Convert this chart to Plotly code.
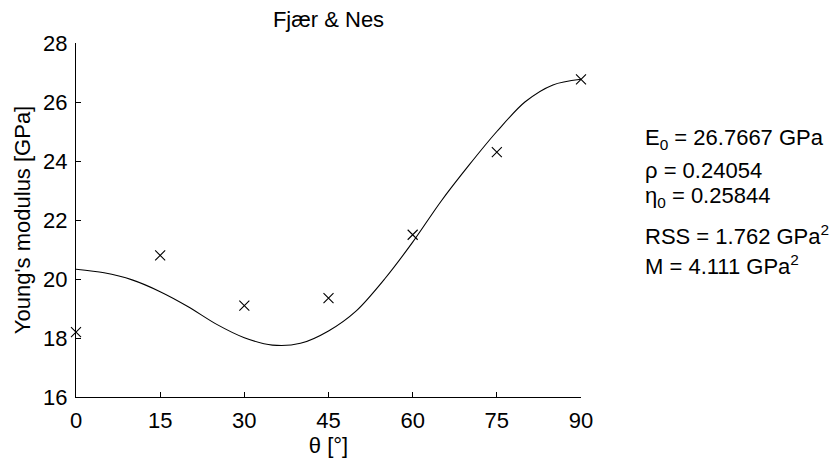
import plotly.graph_objects as go

# measured data
theta_pts = [0, 15, 30, 45, 60, 75, 90]
E_pts = [18.2, 20.8, 19.1, 19.35, 21.5, 24.3, 26.77]

# fitted curve
theta_fit = [0, 5, 10, 15, 20, 25, 30, 35, 40, 45, 50, 55, 60, 65, 70, 75, 80, 85, 90]
E_fit = [20.33, 20.21, 19.97, 19.57, 19.06, 18.47, 18.01, 17.76, 17.82, 18.24,
         18.93, 20.0, 21.25, 22.62, 23.85, 25.0, 26.0, 26.58, 26.77]

x_ticks = [0, 15, 30, 45, 60, 75, 90]
y_ticks = [16, 18, 20, 22, 24, 26, 28]

info_lines = [
    "E<sub>0</sub> = 26.7667 GPa",
    "ρ = 0.24054",
    "η<sub>0</sub> = 0.25844",
    "RSS = 1.762 GPa<sup>2</sup>",
    "M = 4.111 GPa<sup>2</sup>",
]
info_y_px = [139, 170, 197, 235, 265]

FONT = "Liberation Sans, Arial, Helvetica, sans-serif"
FS = 22
L, R, T, B = 76, 250, 43, 65
W, H = 831, 462
ph = H - T - B

fig = go.Figure()
fig.add_trace(go.Scatter(x=theta_fit, y=E_fit, mode="lines",
                         line=dict(color="black", width=1.1, shape="spline", smoothing=0.85),
                         hoverinfo="skip", showlegend=False, cliponaxis=False))
fig.add_trace(go.Scatter(x=theta_pts, y=E_pts, mode="markers", cliponaxis=False,
                         marker=dict(symbol="x-thin-open", size=10, color="black",
                                     line=dict(color="black", width=1.1)),
                         showlegend=False))

for txt, ypx in zip(info_lines, info_y_px):
    fig.add_annotation(text=txt, xref="paper", yref="paper",
                       x=(644 - L) / (W - L - R), y=(H - B - ypx) / ph,
                       xanchor="left", yanchor="middle", showarrow=False,
                       borderpad=0,
                       font=dict(family=FONT, size=FS, color="black"))

fig.update_layout(
    width=W, height=H,
    margin=dict(l=L, r=R, t=T, b=B),
    paper_bgcolor="white", plot_bgcolor="white",
    font=dict(family=FONT, size=FS, color="black"),
    title=dict(text="Fjær & Nes", xref="paper", x=0.5, xanchor="center",
               y=1 - 19 / H, yanchor="middle",
               font=dict(family=FONT, size=FS, color="black")),
    xaxis=dict(range=[0, 90], tickvals=x_ticks, ticks="inside", ticklen=5, tickcolor="black",
               showline=True, linecolor="black", linewidth=1, showgrid=False, zeroline=False,
               title=dict(text="θ [°]", standoff=2, font=dict(size=FS)),
               tickfont=dict(size=FS), ticklabelstandoff=4),
    yaxis=dict(range=[16, 28], tickvals=y_ticks, ticks="inside", ticklen=5, tickcolor="black",
               showline=True, linecolor="black", linewidth=1, showgrid=False, zeroline=False,
               title=dict(text="Young's modulus [GPa]", standoff=6, font=dict(size=FS)),
               tickfont=dict(size=FS), ticklabelstandoff=3),
)

fig.write_html("out.html")
